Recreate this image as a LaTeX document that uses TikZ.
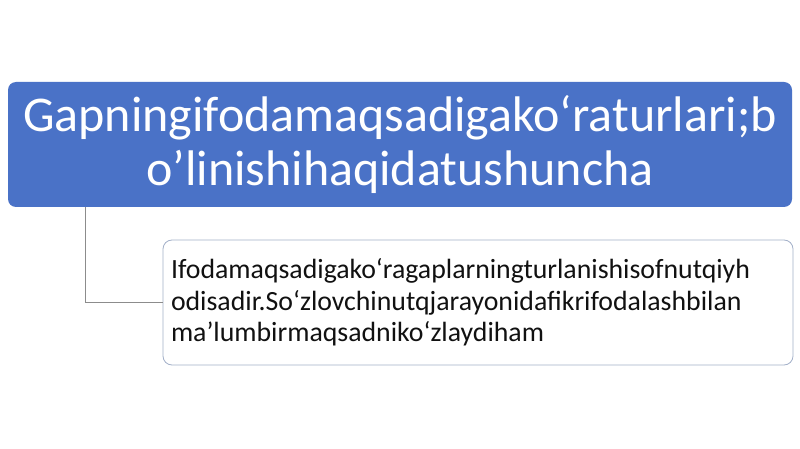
\documentclass[tikz,border=0pt]{standalone}
\usepackage{fontspec}
\setmainfont{Carlito}
\usetikzlibrary{calc}
\definecolor{topblue}{HTML}{4A72C7}
\definecolor{subborder}{HTML}{A3B0C9}
\definecolor{connclr}{HTML}{8C8C8C}
\definecolor{subtext}{HTML}{111111}
\tikzset{
  topbox/.style={draw=none, fill=topblue, rounded corners=8pt, minimum width=784pt, minimum height=125pt, inner sep=0pt, align=center, text=white, font=\fontsize{50}{54}\selectfont},
  subbox/.style={draw=subborder, line width=0.8pt, fill=white, rounded corners=9pt, minimum width=628pt, minimum height=125pt, inner xsep=8pt, inner ysep=0pt, text width=614pt, align=left, text=subtext, font=\fontsize{27.8}{31.5}\selectfont},
  conn/.style={draw=connclr, line width=0.9pt},
}
\begin{document}
\begin{tikzpicture}[x=1pt,y=-1pt]
\useasboundingbox[fill=white] (0,0) rectangle (800,449);
\node[topbox] (top) at (400,144.5) {Gapningifodamaqsadigako‘raturlari;b\\o’linishihaqidatushuncha};
\node[subbox] (sub) at (478,302.5) {Ifodamaqsadigako‘ragaplarningturlanishisofnutqiyh\\odisadir.So‘zlovchinutqjarayonidafikrifodalashbilan\\ma’lumbirmaqsadniko‘zlaydiham};
\draw[conn] ($(top.south west)+(78,0)$) |- (sub.west);
\end{tikzpicture}
\end{document}
